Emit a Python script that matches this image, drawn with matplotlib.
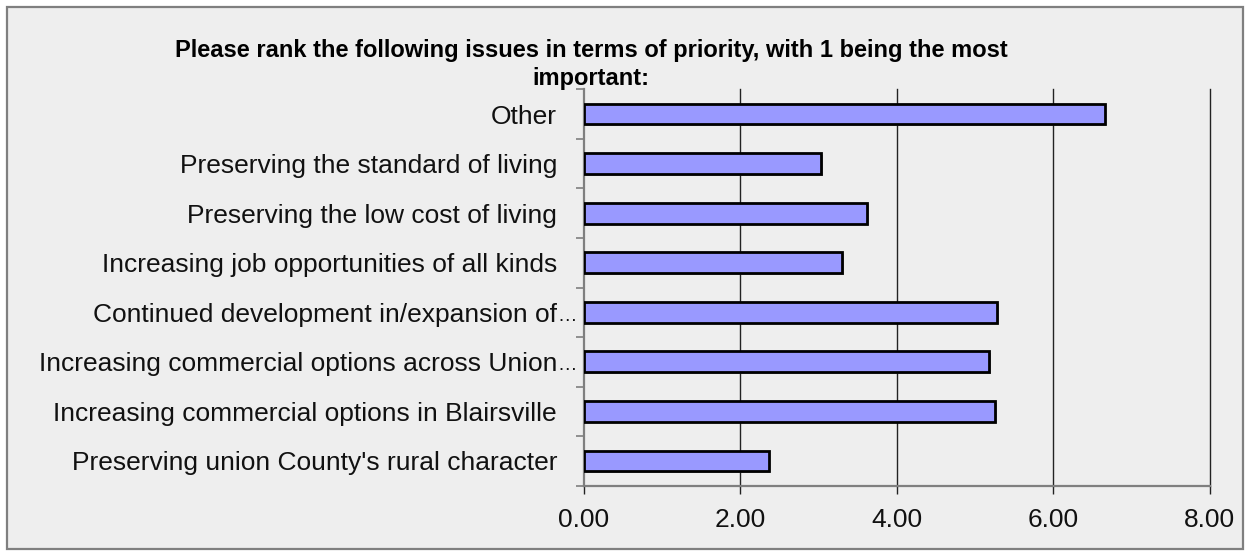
import matplotlib
matplotlib.use("Agg")
import matplotlib.pyplot as plt
import matplotlib.patches as mpatches
import matplotlib.patheffects as pe
import matplotlib.transforms as mtransforms
import numpy as np

plt.rcParams["font.family"] = ["Liberation Sans", "DejaVu Sans"]

# Survey items, listed bottom to top as they appear on the axis
categories = [
    "Preserving union County's rural character",
    "Increasing commercial options in Blairsville",
    "Increasing commercial options across Union…",
    "Continued development in/expansion of…",
    "Increasing job opportunities of all kinds",
    "Preserving the low cost of living",
    "Preserving the standard of living",
    "Other",
]
avg_rank = [2.36, 5.26, 5.18, 5.28, 3.30, 3.62, 3.03, 6.66]
x_ticks = [0, 2, 4, 6, 8]
x_tick_labels = ["0.00", "2.00", "4.00", "6.00", "8.00"]
title = "Please rank the following issues in terms of priority, with 1 being the most\nimportant:"

W, H = 1250, 556
fig = plt.figure(figsize=(W / 100, H / 100), dpi=100)
fig.patch.set_facecolor("white")

# Chart frame, drawn underneath the axes
frame = mpatches.Rectangle((7 / W, 7 / H), (1243 - 7) / W, (549 - 7) / H,
                           transform=fig.transFigure, facecolor="#eeeeee",
                           edgecolor="#7f7f7f", linewidth=1.6, zorder=-10)
fig.patches.append(frame)

left, right, top, bottom = 584, 1209.6, 89.3, 485.7
ax = fig.add_axes([left / W, 1 - bottom / H, (right - left) / W, (bottom - top) / H])
ax.set_facecolor("none")

y = np.arange(len(categories))
bars = ax.barh(y, avg_rank, height=0.42, color="#9999ff", edgecolor="black",
               linewidth=2.0, zorder=3)
for b in bars:
    b.set_path_effects([pe.SimplePatchShadow(offset=(1.2, -1.2), shadow_rgbFace="#808080", alpha=0.6),
                        pe.Normal()])

ax.set_xlim(0, 8)
ax.set_ylim(-0.5, len(categories) - 0.5)

# Truncated labels: the text is right-aligned like the others and a compact
# ellipsis hangs past the label column.
label_size = 19.0
ELL = "…"
shown = [c[:-1] if c.endswith(ELL) else c for c in categories]

ax.set_xticks(x_ticks)
ax.set_xticklabels(x_tick_labels)
ax.set_yticks(y)
ax.set_yticklabels(shown)
ax.set_yticks(np.arange(-0.5, len(categories)), minor=True)

label_pad_px = 27
ax.tick_params(axis="y", which="major", length=0, pad=label_pad_px * 0.72,
               labelsize=label_size, labelcolor="#111111")
ax.tick_params(axis="y", which="minor", length=6, width=1.2, color="#7f7f7f", direction="out")
ax.tick_params(axis="x", which="major", length=6, width=1.0, color="#222222", pad=10,
               labelsize=label_size, labelcolor="#111111")

trans_ell = ax.get_yaxis_transform() + mtransforms.ScaledTranslation(
    (-label_pad_px + 0.5) / 100, -8.5 / 100, fig.dpi_scale_trans)
for yi, c in zip(y, categories):
    if c.endswith(ELL):
        ax.text(0, yi, ELL, transform=trans_ell, ha="left", va="baseline",
                fontsize=14, color="#111111", clip_on=False)

for xv in x_ticks[1:]:
    ax.axvline(xv, color="#222222", linewidth=1.0, zorder=1, clip_on=False)

for s in ["top", "right"]:
    ax.spines[s].set_visible(False)
for s in ["left", "bottom"]:
    ax.spines[s].set_color("#7f7f7f")
    ax.spines[s].set_linewidth(1.6)

fig.text(591 / W, 1 - 85 / H, title, ha="center", va="baseline", fontsize=17,
         fontweight="bold", color="black", linespacing=1.25)

fig.savefig("out.png", dpi=100, facecolor=fig.get_facecolor())
